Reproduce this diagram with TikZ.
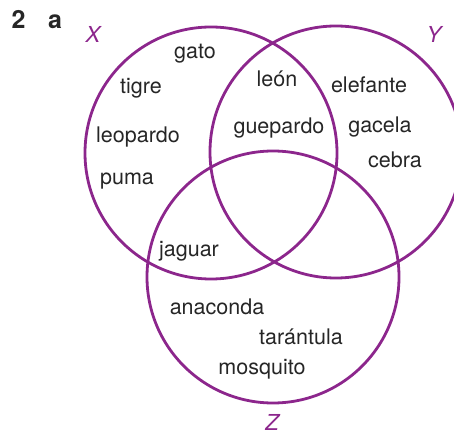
\documentclass[tikz,border=0pt]{standalone}
\usepackage{fontspec}
\setmainfont{TeX Gyre Heros}
\usepackage{tikz}
\usetikzlibrary{positioning}
\usepackage{xcolor}
\definecolor{vennpurple}{RGB}{140,38,140}

\begin{document}
\begin{tikzpicture}[
  x=1pt, y=-1pt,
  venn/.style={
    circle, draw=vennpurple, line width=2.8pt,
    minimum size=252pt, inner sep=0pt
  },
  animal/.style={
    anchor=base, inner sep=0pt, text=black!85,
    font=\fontsize{21.5}{24}\selectfont
  },
  setname/.style={
    anchor=base, inner sep=0pt, text=vennpurple,
    font=\fontsize{22}{24}\selectfont\itshape
  },
  heading/.style={
    anchor=base, inner sep=0pt, text=black!85,
    font=\fontsize{25}{28}\selectfont\bfseries
  }
]
\useasboundingbox (0,0) rectangle (454,435);

% circles
\node[venn] (cx) at (211,153) {};
\node[venn] (cy) at (336,152) {};
\node[venn] (cz) at (273,277) {};

% headings and set names
\node[heading] (num) at (18.5,29) {2};
\node[heading] (part) at (55,29) {a};
\node[setname] (lx) at (93,43) {X};
\node[setname] (ly) at (434,43) {Y};
\node[setname] (lz) at (272,430.5) {Z};

% only X
\node[animal] (gato) at (195,59) {gato};
\node[animal] (tigre) at (141,94) {tigre};
\node[animal] (leopardo) at (138,143) {leopardo};
\node[animal] (puma) at (127,185) {puma};
% X and Y
\node[animal] (leon) at (277,87) {león};
\node[animal] (guepardo) at (279,134) {guepardo};
% only Y
\node[animal] (elefante) at (369,93) {elefante};
\node[animal] (gacela) at (380,133) {gacela};
\node[animal] (cebra) at (395,168) {cebra};
% X and Z
\node[animal] (jaguar) at (189,256) {jaguar};
% only Z
\node[animal] (anaconda) at (217,314) {anaconda};
\node[animal] (tarantula) at (301,344) {tarántula};
\node[animal] (mosquito) at (262,374) {mosquito};

\end{tikzpicture}
\end{document}
